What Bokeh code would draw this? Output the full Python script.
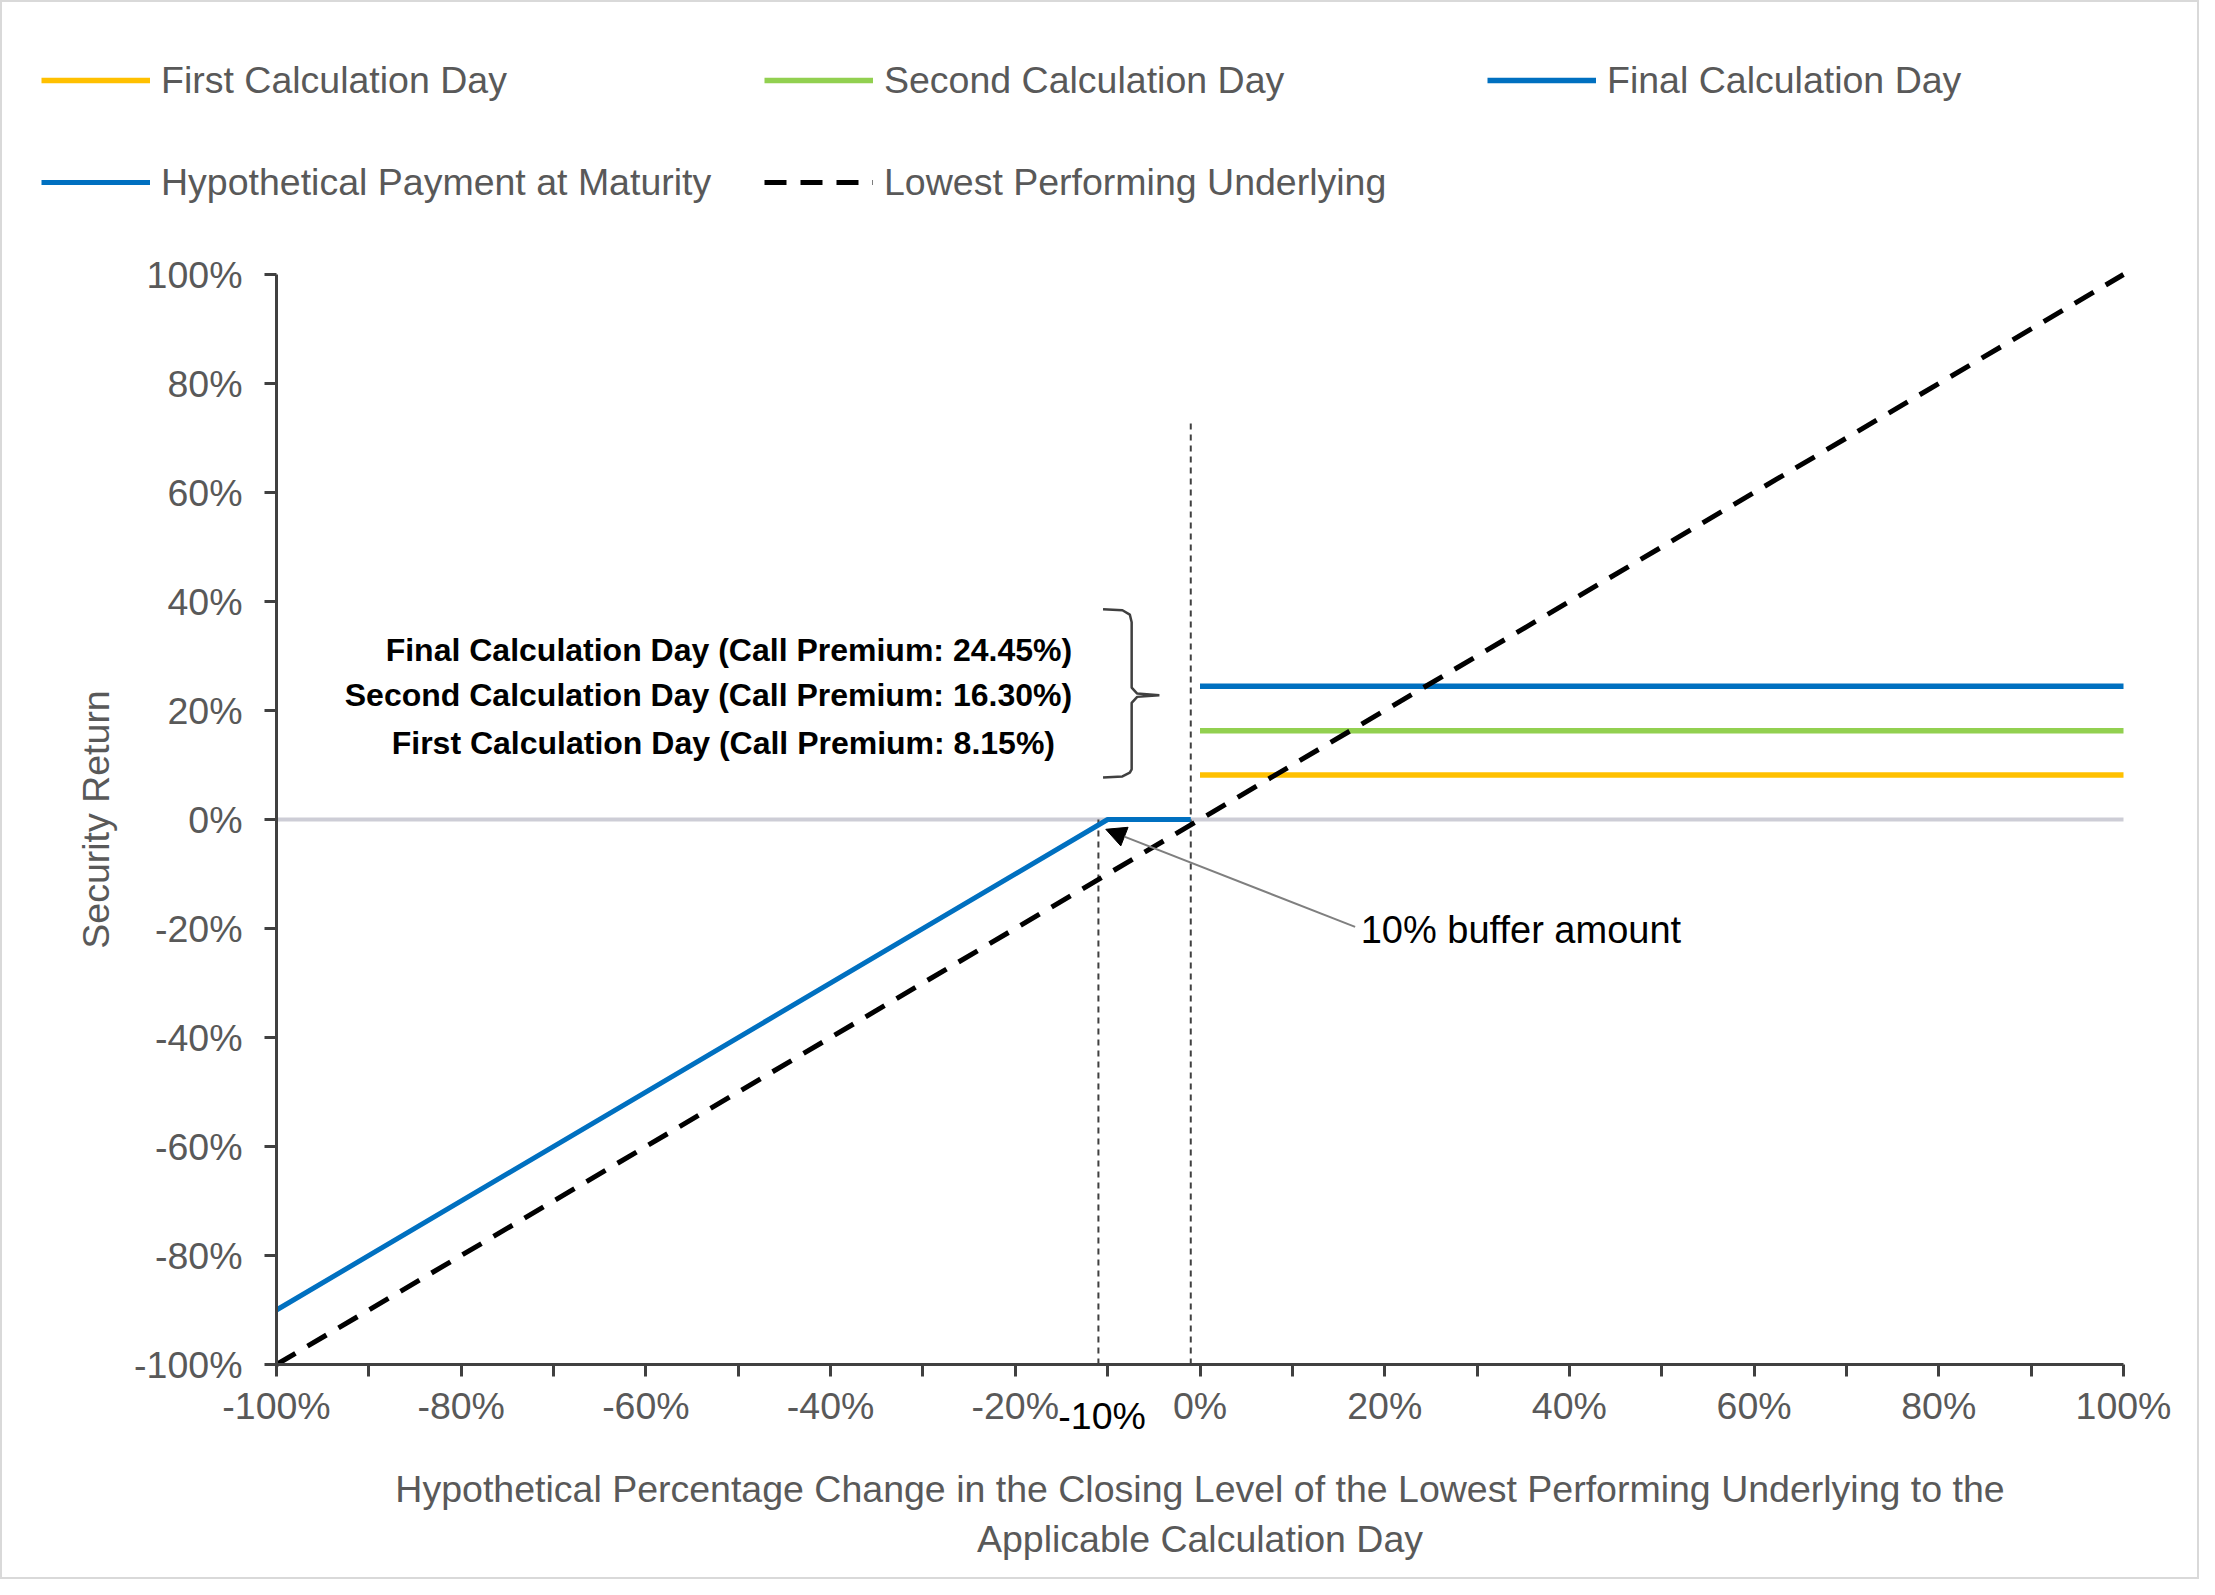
from bokeh.plotting import figure
from bokeh.models import (Legend, LegendItem, Label, Arrow, NormalHead,
                          FixedTicker, Range1d)
from bokeh.embed import file_html
from bokeh.resources import INLINE

# ---------------- data ----------------
underlying_x = [-100, 100]
underlying_y = [-100, 100]

payment_x = [-100, -10, -1]
payment_y = [-90, 0, 0]

premium_names = ["First Calculation Day", "Second Calculation Day", "Final Calculation Day"]
premium_values = [8.15, 16.30, 24.45]
premium_colors = ["#FFC000", "#92D050", "#0070C0"]
premium_x = [0, 100]

zero_x = [-100, 100]
zero_y = [0, 0]

guide_x = [-11, -1]
guide_top = [0, 73]
guide_bottom = [-100, -100]

x_ticks = [-100, -90, -80, -70, -60, -50, -40, -30, -20, -10, 0,
           10, 20, 30, 40, 50, 60, 70, 80, 90, 100]
x_tick_labels = ["-100%", "", "-80%", "", "-60%", "", "-40%", "", "-20%", "", "0%",
                 "", "20%", "", "40%", "", "60%", "", "80%", "", "100%"]
y_ticks = [-100, -80, -60, -40, -20, 0, 20, 40, 60, 80, 100]
y_tick_labels = ["-100%", "-80%", "-60%", "-40%", "-20%", "0%",
                 "20%", "40%", "60%", "80%", "100%"]

note_texts = ["Final Calculation Day (Call Premium: 24.45%)",
              "Second Calculation Day (Call Premium: 16.30%)",
              "First Calculation Day (Call Premium: 8.15%)"]
buffer_text = "10% buffer amount"
buffer_tick_text = "-10%"

x_title = ("Hypothetical Percentage Change in the Closing Level of the Lowest Performing Underlying to the\n"
           "Applicable Calculation Day")
y_title = "Security Return"

# ---------------- layout / styling ----------------
FONT = "Liberation Sans"
GRAY = "#595959"
AXIS = "#404040"

W, H = 2199, 1579
# pixel box on the canvas where the -100%..100% square of the chart sits
BOX_L, BOX_R, BOX_T, BOX_B = 274, 2121, 272, 1362
kx = (BOX_R - BOX_L) / 200.0
ky = (BOX_B - BOX_T) / 200.0
xr = Range1d(-100 - BOX_L / kx, 100 + (W - BOX_R) / kx)
yr = Range1d(-100 - (H - BOX_B) / ky, 100 + BOX_T / ky)

p = figure(width=W, height=H, x_range=xr, y_range=yr,
           output_backend="svg", toolbar_location=None, min_border=0)
p.styles = {"border": "2px solid #D9D9D9"}
p.outline_line_color = None
p.grid.visible = False
p.background_fill_color = "white"
p.border_fill_color = "white"

# zero line
p.line(zero_x, zero_y, line_color="#CDCDD6", line_width=4)

# dotted guide lines
p.segment(x0=guide_x, y0=guide_bottom, x1=guide_x, y1=guide_top,
          line_color=AXIS, line_width=2, line_dash="6 5")

# premium lines
prem_r = []
for name, val, col in zip(premium_names, premium_values, premium_colors):
    r = p.line(premium_x, [val, val], line_color=col, line_width=5.5)
    prem_r.append(r)

pay_r = p.line(payment_x, payment_y, line_color="#0070C0", line_width=5)
und_r = p.line(underlying_x, underlying_y, line_color="black", line_width=5,
               line_dash="22 14")

# brace (annotation shape)
brace_x = [-10.5, -8.4, -7.6, -7.4, -7.4, -6.8, -4.4, -6.8, -7.4, -7.4, -7.6, -8.4, -10.5]
brace_y = [38.6, 38.4, 37.6, 36.2, 24.2, 23.1, 22.8, 22.5, 21.4, 9.2, 8.6, 7.9, 7.7]
p.line(brace_x, brace_y, line_color=AXIS, line_width=2.5)

# notes
note_pos = [(-13.85, 31.1), (-13.85, 22.8), (-15.7, 14.0)]
for t, (nx, ny) in zip(note_texts, note_pos):
    p.add_layout(Label(x=nx, y=ny, text=t, text_align="right", text_baseline="middle",
                       text_font=FONT, text_font_size="32px", text_font_style="bold",
                       text_color="black"))

# buffer arrow
p.add_layout(Arrow(end=NormalHead(size=20, fill_color="black", line_color="black"),
                   x_start=16.8, y_start=-19.7, x_end=-10.2, y_end=-1.8,
                   line_color="#7F7F7F", line_width=2))
p.add_layout(Label(x=17.4, y=-20.2, text=buffer_text, text_align="left",
                   text_baseline="middle", text_font=FONT, text_font_size="38px",
                   text_color="black"))
p.add_layout(Label(x=-10.6, y=-109.5, text=buffer_tick_text,
                   text_align="center", text_baseline="middle", text_font=FONT,
                   text_font_size="37.5px", text_color="black"))

# axes (drawn at the -100% edges of the chart square)
for ax in (p.xaxis, p.yaxis):
    ax.fixed_location = -100
    ax.bounds = (-100, 100)
    ax.axis_line_color = AXIS
    ax.axis_line_width = 3
    ax.major_tick_line_color = AXIS
    ax.major_tick_line_width = 3
    ax.major_tick_in = 0
    ax.major_tick_out = 12
    ax.minor_tick_line_color = None
    ax.major_label_text_font = FONT
    ax.major_label_text_font_size = "37.5px"
    ax.major_label_text_color = GRAY
    ax.axis_label_text_font = FONT
    ax.axis_label_text_font_size = "37.5px"
    ax.axis_label_text_color = GRAY
    ax.axis_label_text_font_style = "normal"

p.xaxis.ticker = FixedTicker(ticks=x_ticks)
p.xaxis.major_label_overrides = dict(zip(x_ticks, x_tick_labels))
p.xaxis.major_label_standoff = 8
p.xaxis.axis_label = x_title
p.xaxis.axis_label_standoff = 38

p.yaxis.ticker = FixedTicker(ticks=y_ticks)
p.yaxis.major_label_overrides = dict(zip(y_ticks, y_tick_labels))
p.yaxis.major_label_standoff = 22
p.yaxis.axis_label = y_title
p.yaxis.axis_label_standoff = 14

# legends (one per entry, laid out in two rows like the original)
ROW_H = 60
col_x = [39, 762, 1485]
row_c = [78, 180]
legend_entries = [
    ("First Calculation Day", prem_r[0], 0, 0),
    ("Second Calculation Day", prem_r[1], 1, 0),
    ("Final Calculation Day", prem_r[2], 2, 0),
    ("Hypothetical Payment at Maturity", pay_r, 0, 1),
    ("Lowest Performing Underlying", und_r, 1, 1),
]
for lab, rend, c, rw in legend_entries:
    loc = (col_x[c], H - (row_c[rw] + ROW_H / 2))
    lg = Legend(items=[LegendItem(label=lab, renderers=[rend])], location=loc,
                orientation="horizontal", padding=0, margin=0, spacing=0,
                border_line_color=None, background_fill_alpha=0,
                glyph_width=109, glyph_height=ROW_H, label_height=ROW_H,
                label_standoff=11, label_text_font=FONT,
                label_text_font_size="37.5px", label_text_color=GRAY)
    p.add_layout(lg)

open("out.html", "w").write(file_html(p, INLINE))
